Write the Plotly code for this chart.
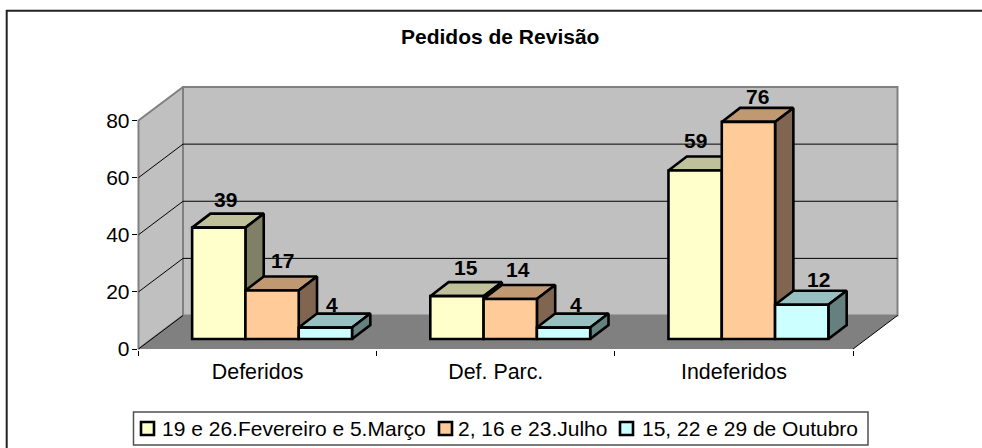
import plotly.graph_objects as go

categories = ["Deferidos", "Def. Parc.", "Indeferidos"]
series_names = ["19 e 26.Fevereiro e 5.Março", "2, 16 e 23.Julho", "15, 22 e 29 de Outubro"]
series_a = [39, 15, 59]
series_b = [17, 14, 76]
series_c = [4, 4, 12]
y_ticks = [0, 20, 40, 60, 80]

front_colors = ["#FFFFCC", "#FFCC99", "#CCFFFF"]
top_colors = ["#C0C09A", "#C09973", "#99C0C0"]
side_colors = ["#808066", "#806650", "#668080"]
# pixel nudges of the value labels, per category then series
label_dx = [[6.5, 10, 7], [9, 8, 12], [0, 9, 17]]
label_dy = [[28, 30, 23], [29, 30, 23], [30, 25, 25]]
# legend layout (pixels): swatch centre and text start per entry
legend_swatch_x = [147.5, 445.5, 626.5]
legend_text_x = [160.5, 457, 640.5]

W, H = 982, 448
FONT = "Liberation Sans, Arial, sans-serif"
FS = 21
EDGE = 2.6
X0, X1, Y0, Y80 = 138.5, 853.0, 349.0, 120.5
PX_CAT = (X1 - X0) / len(categories)
PX_VAL = (Y0 - Y80) / y_ticks[-1]
WALL_DX, WALL_DY = 44.5 / PX_CAT, 33.5 / PX_VAL
BAR_DX, BAR_DY = 18.3 / PX_CAT, 14 / PX_VAL
INSET_DX, INSET_BASE = 14.5 / PX_CAT, 10 / PX_VAL
BAR_W = 53.3 / PX_CAT
MAXV = y_ticks[-1]
NC = len(categories)


def px(x):
    return x / W


def py(y):
    return 1 - y / H


fig = go.Figure()


def poly(xs, ys, fill, line_color="black", line_w=0, z=0):
    fig.add_trace(go.Scatter(
        x=xs, y=ys, mode="lines", fill="toself" if fill else None, fillcolor=fill,
        line=dict(color=line_color, width=line_w), hoverinfo="skip",
        showlegend=False, zorder=z))


# walls and floor
poly([0, WALL_DX, NC + WALL_DX, NC, 0], [0, WALL_DY, WALL_DY, 0, 0], "#808080", z=0)
poly([WALL_DX, NC + WALL_DX, NC + WALL_DX, WALL_DX, WALL_DX],
     [WALL_DY, WALL_DY, MAXV + WALL_DY, MAXV + WALL_DY, WALL_DY], "#C0C0C0", "#808080", 2, 0)
poly([0, WALL_DX, WALL_DX, 0, 0], [0, WALL_DY, MAXV + WALL_DY, MAXV, 0], "#C0C0C0", "#808080", 2, 0)
# gridlines on the walls
for t in y_ticks[1:-1]:
    poly([0, WALL_DX, NC + WALL_DX], [t, t + WALL_DY, t + WALL_DY], None, "#000000", 1, 1)
poly([0, WALL_DX], [0, WALL_DY], None, "#000000", 1, 1)
poly([NC, NC + WALL_DX], [0, WALL_DY], None, "#000000", 1, 1)

# bars
all_series = [series_a, series_b, series_c]
annotations = []
z = 2
for ci in range(NC):
    center = ci + 0.5 + INSET_DX
    for si, vals in enumerate(all_series):
        v = vals[ci]
        x0 = center + (si - 1.5) * BAR_W
        x1 = x0 + BAR_W
        b = INSET_BASE
        t = b + v
        poly([x0, x0 + BAR_DX, x1 + BAR_DX, x1, x0], [t, t + BAR_DY, t + BAR_DY, t, t],
             top_colors[si], "black", EDGE, z)
        poly([x1, x1 + BAR_DX, x1 + BAR_DX, x1, x1], [b, b + BAR_DY, t + BAR_DY, t, b],
             side_colors[si], "black", EDGE, z)
        fig.add_trace(go.Bar(
            x=[x0 + BAR_W / 2], y=[v], base=[b], width=[BAR_W],
            name=series_names[si], showlegend=False,
            marker=dict(color=front_colors[si], line=dict(color="black", width=EDGE)),
            hoverinfo="skip", zorder=z + 1))
        z += 2
        annotations.append(dict(
            x=x0 + BAR_W / 2, y=t, xref="x", yref="y", text=f"<b>{v}</b>", showarrow=False,
            xshift=label_dx[ci][si], yshift=label_dy[ci][si], yanchor="middle",
            font=dict(family=FONT, size=FS, color="black")))

# carrier of the real axes
fig.add_trace(go.Scatter(x=[0, NC], y=[0, MAXV], xaxis="x2", yaxis="y2", mode="markers",
                         marker=dict(opacity=0, size=1), showlegend=False, hoverinfo="skip"))

annotations.append(dict(x=px(500), y=py(37), xref="paper", yref="paper", showarrow=False, yanchor="middle",
                        text="<b>Pedidos de Revisão</b>", font=dict(family=FONT, size=FS, color="black")))

shapes = [
    dict(type="line", xref="paper", yref="paper", x0=px(6.7), x1=px(6.7), y0=0, y1=py(10), line=dict(color="#222222", width=2)),
    dict(type="line", xref="paper", yref="paper", x0=px(6), x1=1, y0=py(10.7), y1=py(10.7), line=dict(color="#222222", width=2)),
    dict(type="rect", xref="paper", yref="paper", x0=px(133.5), x1=px(868), y0=py(445), y1=py(412),
         line=dict(color="#505050", width=1.5), fillcolor="white"),
]
for si, name in enumerate(series_names):
    sx = legend_swatch_x[si]
    shapes.append(dict(type="rect", xref="paper", yref="paper", x0=px(sx - 6.5), x1=px(sx + 6.5),
                       y0=py(435), y1=py(422), line=dict(color="black", width=2.6), fillcolor=front_colors[si]))
    annotations.append(dict(x=px(legend_text_x[si]), y=py(428.5), xref="paper", yref="paper", showarrow=False,
                            xanchor="left", yanchor="middle", text=name, xshift=-1,
                            font=dict(family=FONT, size=FS, color="black")))

fig.update_layout(
    template="none",
    width=W, height=H, autosize=False, margin=dict(l=0, r=0, t=0, b=0),
    paper_bgcolor="white", plot_bgcolor="rgba(0,0,0,0)", barmode="overlay",
    font=dict(family=FONT, color="black"), showlegend=False,
    xaxis=dict(range=[-X0 / PX_CAT, (W - X0) / PX_CAT], visible=False, domain=[0, 1], automargin=False),
    yaxis=dict(range=[(Y0 - H) / PX_VAL, Y0 / PX_VAL], visible=False, domain=[0, 1], automargin=False),
    xaxis2=dict(domain=[X0 / W, X1 / W], range=[0, NC], anchor="y2", showline=True, linecolor="black", automargin=False,
                linewidth=1.5, tickvals=[i + 0.5 for i in range(NC)], ticktext=categories,
                ticks="outside", ticklen=3, tickcolor="rgba(0,0,0,0)", showgrid=False, zeroline=False,
                minor=dict(tickvals=list(range(NC + 1)), ticks="outside", ticklen=5, tickcolor="black", tickwidth=1, showgrid=False),
                tickfont=dict(family=FONT, size=21.4, color="black")),
    yaxis2=dict(domain=[py(Y0), py(Y80)], range=[0, MAXV], anchor="x2", showline=True, linecolor="black", automargin=False,
                linewidth=1.5, tickvals=y_ticks, ticks="outside", ticklen=5, tickcolor="black", tickwidth=1,
                ticklabelstandoff=-2,
                showgrid=False, zeroline=False, tickfont=dict(family=FONT, size=FS, color="black")),
    annotations=annotations,
    shapes=shapes,
)
fig.write_html("out.html", config=dict(displayModeBar=False),
               post_script="document.body.style.margin='0';document.documentElement.style.overflow='hidden';")
